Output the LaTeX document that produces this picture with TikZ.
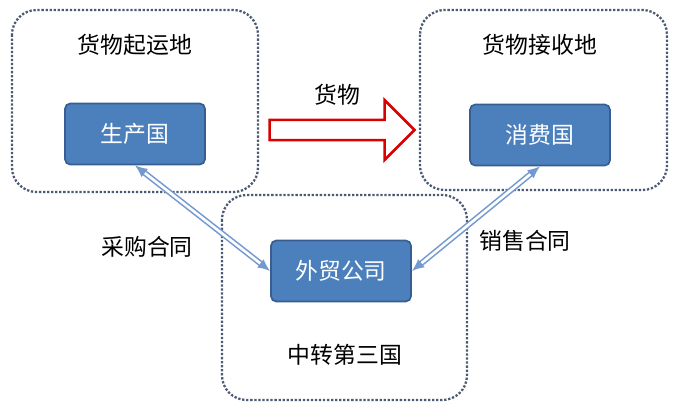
\documentclass[tikz,border=0pt]{standalone}
\usepackage{fontspec}
\setmainfont{Noto Sans CJK SC}
\usetikzlibrary{arrows.meta,positioning,shapes.arrows}
\definecolor{boxBlue}{rgb}{0.30,0.50,0.74}
\definecolor{edgeBlue}{rgb}{0.22,0.37,0.57}
\definecolor{lineBlue}{rgb}{0.45,0.60,0.82}
\definecolor{dotGray}{rgb}{0.30,0.35,0.45}
\tikzset{
  region/.style={
    draw=dotGray,
    densely dotted,
    line width=1.3pt,
    rounded corners=14pt
  },
  country/.style={
    rectangle,
    rounded corners=3pt,
    fill=boxBlue,
    draw=edgeBlue,
    line width=1pt,
    text=white,
    minimum width=2.8cm,
    minimum height=1.22cm,
    font=\fontsize{13}{15}\selectfont
  },
  caption/.style={font=\fontsize{13}{15}\selectfont}
}

\begin{document}
\begin{tikzpicture}[x=0.02cm, y=-0.02cm, >=Stealth]
    \useasboundingbox (0,0) rectangle (680,413);
    \draw[region] (12,10) rectangle (258,192);
    \draw[region] (420,10) rectangle (667,190);
    \draw[region] (222,195) rectangle (467,400);

    \node[caption] (origin) at (135,45) {货物起运地};
    \node[caption] (dest) at (540,45) {货物接收地};
    \node[caption] (transit) at (345,355) {中转第三国};

    \node[country] (prod) at (135,134) {生产国};
    \node[country] (cons) at (540,135) {消费国};
    \node[country] (trade) at (341,271) {外贸公司};

    % goods flow
    \node[single arrow, draw=red!85!black, fill=white, line width=1.5pt,
      minimum width=1.2cm, single arrow head extend=0.12cm,
      minimum height=2.9cm, inner sep=1pt] (goods) at (337,130) {};
    \node[caption, above=4pt of goods] (goodsLabel) {货物};

    % contracts
    \draw[{Latex[length=7pt,width=6pt]}-{Latex[length=7pt,width=6pt]},
      double=white, draw=lineBlue, double distance=1.5pt,
      line width=0.9pt] (prod.south) -- (trade.west);
    \draw[{Latex[length=7pt,width=6pt]}-{Latex[length=7pt,width=6pt]},
      double=white, draw=lineBlue, double distance=1.5pt,
      line width=0.9pt] (cons.south) -- (trade.east);
    \node[caption] (buy) at (147,247) {采购合同};
    \node[caption] (sell) at (525,241) {销售合同};
\end{tikzpicture}
\end{document}
